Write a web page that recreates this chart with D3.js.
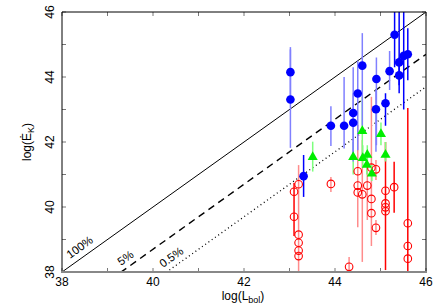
<!DOCTYPE html>
<html><head><meta charset="utf-8">
<script src="https://cdn.jsdelivr.net/npm/d3@7"></script>
<style>body{margin:0;background:#fff}text{font-family:"Liberation Sans",Arial,sans-serif}</style>
</head><body>
<script>
// ---- data ----
const xTicks = [38,40,42,44,46];
const yTicks = [38,40,42,44,46];
const ratioLabels = ["100%","5%","0.5%"];
const ratios = [1,0.05,0.005];

// blue filled circles
const blueX  = [43.02,43.02,43.31,45.31,44.60,44.91,45.20,45.41,45.41,45.51,45.60,44.50,44.40,44.40,44.90,45.11,43.91,44.20];
const blueY  = [44.15,43.31,40.95,45.30,44.35,43.94,44.18,44.45,44.05,44.65,44.70,43.49,42.89,42.59,43.01,43.19,42.50,42.50];
const blueHi = [44.92,44.85,41.60,46.50,45.35,44.60,44.80,46.50,44.60,46.50,45.50,44.50,44.30,43.50,43.60,43.50,43.10,44.00];
const blueLo = [43.38,41.82,40.31,44.30,42.50,41.90,43.60,43.75,43.50,43.00,43.90,41.75,41.60,41.40,41.70,42.50,41.88,41.80];
const blueLight = [1,1,0,0,1,1,1,0,0,0,0,1,1,1,1,0,1,1];

// green triangles
const greenX  = [43.51,44.60,45.01,44.40,44.61,44.71,44.70,44.81,45.11];
const greenY  = [41.55,42.35,42.26,41.55,41.52,41.62,41.31,41.04,41.62];
const greenHi = [42.01,43.40,42.60,42.00,41.90,41.90,41.60,41.30,42.00];
const greenLo = [41.09,41.60,41.90,41.00,41.20,41.30,41.00,40.80,41.40];

// red open circles
const redX  = [43.20,43.10,43.10,43.20,43.20,43.20,43.20,43.91,44.50,44.50,44.50,44.60,44.71,44.80,44.80,44.80,44.90,44.90,45.11,45.11,45.11,45.11,45.30,45.60,45.60,45.60,44.31];
const redY  = [40.70,40.47,39.70,39.15,38.90,38.66,38.49,40.71,41.10,40.66,40.45,40.39,40.66,41.21,40.25,39.81,41.16,39.36,40.50,40.11,39.99,39.87,40.61,39.50,38.80,38.41,38.16];
const redHi = [41.29,40.47,40.74,39.15,38.90,38.66,38.49,40.92,42.52,40.66,40.45,42.06,41.75,43.39,40.25,39.81,41.45,39.60,40.50,42.00,39.99,39.87,41.39,43.05,38.80,38.41,38.46];
const redLo = [37.50,40.47,39.11,39.15,38.90,38.66,38.49,40.46,39.38,40.66,40.45,38.31,39.60,38.80,40.25,39.81,40.83,39.14,40.50,38.06,39.99,39.87,39.82,37.50,38.80,38.41,37.50];
const redLight = [1,0,0,0,0,0,0,1,1,0,0,1,1,1,0,0,1,1,0,0,0,0,0,0,0,0,1];

// ---- chart ----
const W=442,H=305;
const x=d3.scaleLinear().domain([38,46]).range([62,426]);
const y=d3.scaleLinear().domain([38,46]).range([272,12]);
const svg=d3.select("body").append("svg").attr("width",W).attr("height",H);
svg.append("defs").append("clipPath").attr("id","clip").append("rect")
  .attr("x",62).attr("y",12).attr("width",364).attr("height",260);
const plot=svg.append("g").attr("clip-path","url(#clip)");

// ratio lines
const dashes=[null,"7,5","1,3"];
const widths=[1,1.4,1.3];
ratios.forEach((r,i)=>{
  const off=Math.log10(r);
  plot.append("line").attr("x1",x(38)).attr("y1",y(38+off)).attr("x2",x(46)).attr("y2",y(46+off))
    .attr("stroke","#000").attr("stroke-width",widths[i]).attr("stroke-dasharray",dashes[i]);
});

// error bars
function bars(xs,hi,lo,colorFn){
  plot.append("g").selectAll("line").data(xs).join("line")
    .attr("x1",d=>x(d)).attr("x2",d=>x(d))
    .attr("y1",(d,i)=>y(hi[i])).attr("y2",(d,i)=>y(lo[i]))
    .attr("stroke",(d,i)=>colorFn(i)).attr("stroke-width",1.5);
}
bars(redX,redHi,redLo,i=>redLight[i]?"#ff8c8c":"#ff0000");
bars(greenX,greenHi,greenLo,()=>"#7dff7d");
bars(blueX,blueHi,blueLo,i=>blueLight[i]?"#8080ff":"#0000ff");

// markers
plot.append("g").selectAll("circle").data(redX).join("circle")
  .attr("cx",d=>x(d)).attr("cy",(d,i)=>y(redY[i])).attr("r",3.8)
  .attr("fill","none").attr("stroke","#ff0000").attr("stroke-width",1.1);
const tri=d3.symbol().type(d3.symbolTriangle).size(44);
plot.append("g").selectAll("path").data(greenX).join("path")
  .attr("d",tri).attr("transform",(d,i)=>`translate(${x(d)},${y(greenY[i])+0.5})`)
  .attr("fill","#00ee00");
plot.append("g").selectAll("circle").data(blueX).join("circle")
  .attr("cx",d=>x(d)).attr("cy",(d,i)=>y(blueY[i])).attr("r",4.3)
  .attr("fill","#0000ff");

// ticks (inward, all sides, every unit)
const minor=d3.range(38,47);
const tk=svg.append("g").attr("stroke","#777").attr("stroke-width",1);
minor.forEach(v=>{
  tk.append("line").attr("x1",x(v)).attr("x2",x(v)).attr("y1",272).attr("y2",268);
  tk.append("line").attr("x1",x(v)).attr("x2",x(v)).attr("y1",12).attr("y2",16);
  tk.append("line").attr("y1",y(v)).attr("y2",y(v)).attr("x1",62).attr("x2",66);
  tk.append("line").attr("y1",y(v)).attr("y2",y(v)).attr("x1",426).attr("x2",422);
});

// frame
svg.append("line").attr("x1",62).attr("x2",426).attr("y1",12).attr("y2",12).attr("stroke","#000");
svg.append("line").attr("x1",426).attr("x2",426).attr("y1",12).attr("y2",272).attr("stroke","#000");
svg.append("line").attr("x1",62).attr("x2",62).attr("y1",12).attr("y2",272).attr("stroke","#000");
svg.append("line").attr("x1",61).attr("x2",427).attr("y1",272).attr("y2",272).attr("stroke","#888").attr("stroke-width",2);

// tick labels
svg.append("g").selectAll("text").data(xTicks).join("text")
  .attr("x",d=>x(d)).attr("y",286).attr("text-anchor","middle").attr("font-size",12).text(d=>d);
svg.append("g").selectAll("text").data(yTicks).join("text")
  .attr("transform",d=>`translate(54,${y(d)}) rotate(-90)`).attr("text-anchor","middle").attr("font-size",12).text(d=>d);

// axis titles
const xl=svg.append("text").attr("x",243).attr("y",300).attr("text-anchor","middle").attr("font-size",12);
xl.append("tspan").text("log(L");
xl.append("tspan").attr("font-size",9).attr("dy",3).text("bol");
xl.append("tspan").attr("dy",-3).text(")");
const yl=svg.append("text").attr("transform","translate(31,142) rotate(-90)").attr("text-anchor","middle").attr("font-size",12);
yl.append("tspan").text("log(Ė");
yl.append("tspan").attr("font-size",9).attr("dy",3).text("K");
yl.append("tspan").attr("dy",-3).text(")");

// ratio labels
const ang=Math.atan2(-(y(46)-y(38)),x(46)-x(38))*180/Math.PI;
const labPos=[[70,259],[121,266],[163,268]];
ratioLabels.forEach((t,i)=>{
  svg.append("text").attr("transform",`translate(${labPos[i][0]},${labPos[i][1]}) rotate(${-ang})`)
    .attr("font-size",11.5).text(t);
});
</script>
</body></html>
